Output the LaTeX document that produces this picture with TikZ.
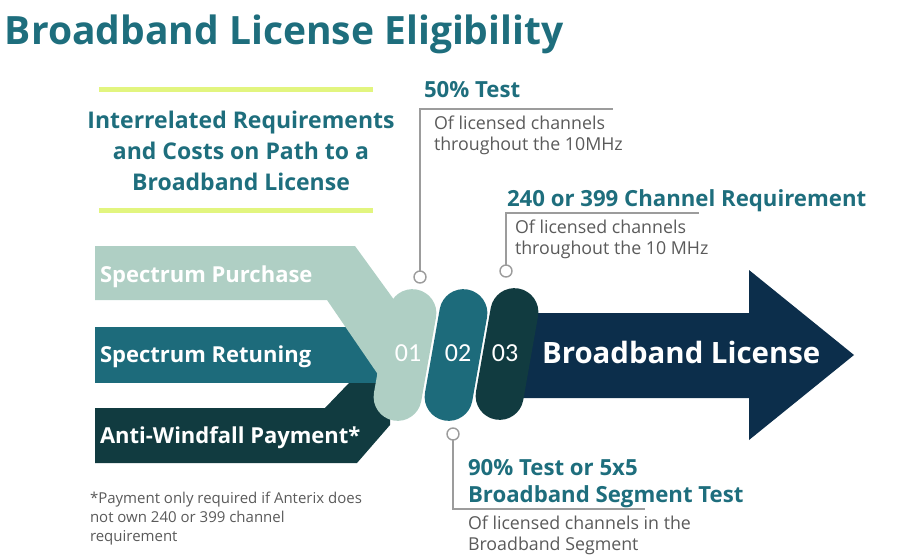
\documentclass[tikz,border=0pt]{standalone}
\usepackage{fontspec}
\setmainfont{Open Sans}
\newfontfamily\digitfont{Carlito}
\usepackage{xcolor}
\usepackage{tikz}

\definecolor{sage}{HTML}{AFCFC4}
\definecolor{tealmid}{HTML}{1D6B7B}
\definecolor{tealdark}{HTML}{113B40}
\definecolor{navy}{HTML}{0C2E4B}
\definecolor{headteal}{HTML}{1E6E7D}
\definecolor{lime}{HTML}{E2F57F}
\definecolor{leadgray}{HTML}{9C9C9C}
\definecolor{notegray}{HTML}{5A5A5A}

\begin{document}
\begin{tikzpicture}[x=1pt, y=-1pt, every node/.style={inner sep=0pt, outer sep=0pt},
    head/.style={anchor=base west, text=headteal, align=left,
                 font=\bfseries\fontsize{22.2}{27}\selectfont},
    note/.style={anchor=base west, text=notegray, align=left,
                 font=\fontsize{17.8}{21}\selectfont},
    bandtext/.style={anchor=base west, text=white, font=\bfseries\fontsize{22}{26}\selectfont},
    pill/.style={rectangle, rounded corners=24pt, minimum width=48pt,
                 minimum height=133pt, rotate=-10},
    num/.style={anchor=base, text=white, font=\digitfont\fontsize{26}{28}\selectfont},
    dot/.style={circle, draw=leadgray, fill=white, line width=1.4pt, minimum size=12pt},
    lead/.style={draw=leadgray, line width=1.5pt}]
  \useasboundingbox (0,0) rectangle (897,557);

  % title and intro
  \node[anchor=base west, text=headteal, font=\bfseries\fontsize{39}{44}\selectfont]
      (title) at (5,44) {Broadband License Eligibility};
  \draw[lime, line width=5pt] (99,89) -- (373,89);
  \draw[lime, line width=5pt] (99,210) -- (373,210);
  \node[anchor=base, text=headteal, align=center,
        font=\bfseries\fontsize{23}{31}\selectfont]
      (intro) at (241,190) {Interrelated Requirements\\and Costs on Path to a\\Broadband License};

  % input bands
  \fill[tealmid]  (95,327) rectangle (390,383);
  \fill[tealdark] (95,408) -- (325,408) -- (349,383) -- (390,383) -- (390,425)
                  -- (357,463) -- (95,463) -- cycle;
  \fill[sage]     (95,246) -- (355,246) -- (400,308) -- (390,400) -- (377,373)
                  -- (327,300) -- (95,300) -- cycle;
  \node[bandtext] (purchase) at (100,282) {Spectrum Purchase};
  \node[bandtext] (retuning) at (100,362) {Spectrum Retuning};
  \node[bandtext] (windfall) at (100,443) {Anti-Windfall Payment*};

  % output arrow
  \fill[navy] (505,313) -- (749,313) -- (749,270) -- (854,355) -- (749,440)
              -- (749,398) -- (505,398) -- cycle;
  \node[anchor=base west, text=white, font=\bfseries\fontsize{29.4}{32}\selectfont]
      (license) at (542,363) {Broadband License};

  % steps
  \node[pill, fill=sage]     (p1) at (405,355) {};
  \node[pill, fill=tealmid]  (p2) at (456,355) {};
  \node[pill, fill=tealdark] (p3) at (507,354) {};
  \node[num] (n1) at (408,361) {01};
  \node[num] (n2) at (458,361) {02};
  \node[num] (n3) at (505,361) {03};

  % callouts
  \node[dot] (d1) at (420,277) {};
  \node[dot] (d2) at (506,271) {};
  \node[dot] (d3) at (453,434) {};
  \coordinate (e1) at (613,109);
  \coordinate (e2) at (699,213);
  \coordinate (e3) at (645,509);
  \draw[lead] (d1) |- (e1);
  \draw[lead] (d2) |- (e2);
  \draw[lead] (d3) |- (e3);

  \node[head] (t1) at (424,97) {50\% Test};
  \node[note] (s1) at (434,150) {Of licensed channels\\throughout the 10MHz};
  \node[head] (t2) at (507,206) {240 or 399 Channel Requirement};
  \node[note] (s2) at (515,254) {Of licensed channels\\throughout the 10 MHz};
  \node[head] (t3) at (468,502) {90\% Test or 5x5\\Broadband Segment Test};
  \node[note] (s3) at (468,550) {Of licensed channels in the\\Broadband Segment};

  % footnote
  \node[anchor=base west, text=notegray, align=left,
        font=\fontsize{15}{19}\selectfont]
      (foot) at (90,541) {*Payment only required if Anterix does\\not own 240 or 399 channel\\requirement};
\end{tikzpicture}
\end{document}
